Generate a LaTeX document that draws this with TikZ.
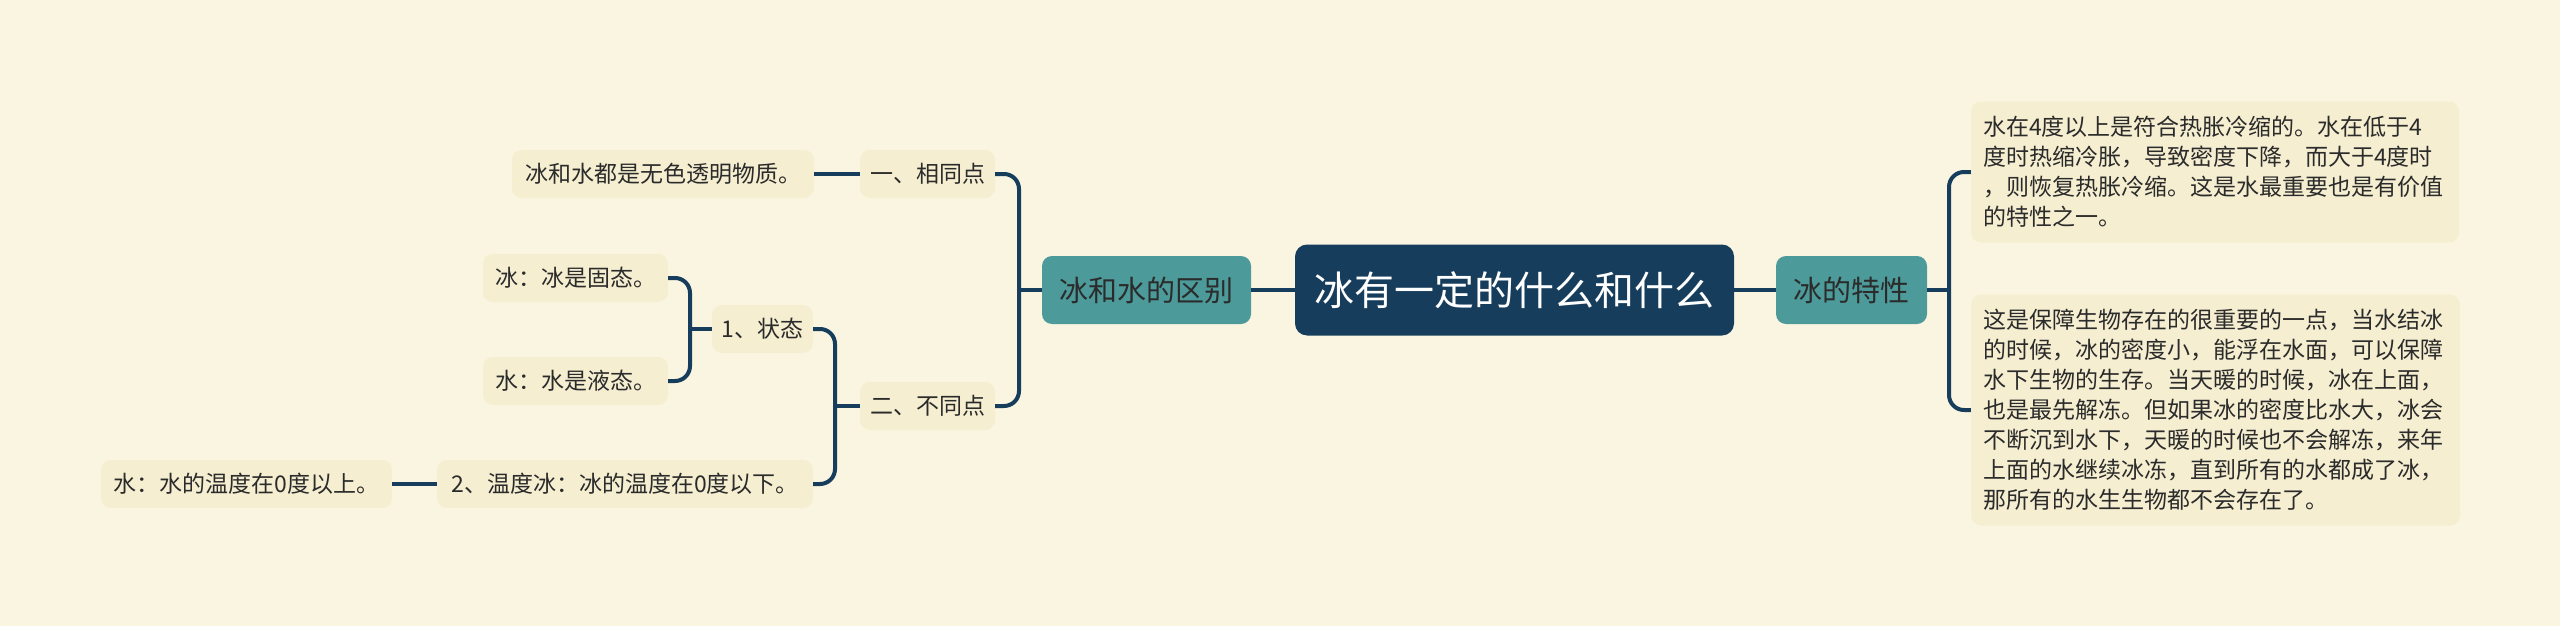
\documentclass[tikz,border=0pt]{standalone}
\usepackage{fontspec}
\setmainfont{Noto Sans CJK SC}
\definecolor{bg}{HTML}{FAF5E1}
\definecolor{leaf}{HTML}{F5EED1}
\definecolor{navy}{HTML}{173D5C}
\definecolor{teal}{HTML}{4C9A9A}
\definecolor{ink}{HTML}{2B2B2B}
\begin{document}
\begin{tikzpicture}[x=1pt,y=-1pt,
  rootbox/.style={fill=navy, rounded corners=12pt, text=white, inner sep=0pt,
    minimum width=439pt, minimum height=91pt, font=\fontsize{40}{48}\selectfont},
  mainbox/.style={fill=teal, rounded corners=10pt, text=ink, inner sep=0pt,
    minimum height=68pt, font=\fontsize{29}{35}\selectfont},
  leafbox/.style={fill=leaf, rounded corners=10pt, text=ink, inner sep=0pt,
    minimum height=48pt, font=\fontsize{23}{28}\selectfont},
  parabox/.style={fill=leaf, rounded corners=10pt, text=ink, inner sep=0pt,
    align=left, text width=464pt, font=\fontsize{23}{30}\selectfont},
  conn/.style={draw=navy, line width=4pt, rounded corners=15pt}
]
\fill[bg] (0,0) rectangle (2560,626);
\useasboundingbox (0,0) rectangle (2560,626);

\node[rootbox] (root) at (1514.5,290) {冰有一定的什么和什么};
\node[mainbox, minimum width=151pt] (tx) at (1851.5,290) {冰的特性};
\node[mainbox, minimum width=209pt] (qb) at (1146.5,290) {冰和水的区别};

\node[parabox, minimum width=488pt, minimum height=141pt] (r1) at (2215,172)
  {水在4度以上是符合热胀冷缩的。水在低于4\\度时热缩冷胀，导致密度下降，而大于4度时\\，则恢复热胀冷缩。这是水最重要也是有价值\\的特性之一。};
\node[parabox, minimum width=489pt, minimum height=231pt] (r2) at (2215.5,410)
  {这是保障生物存在的很重要的一点，当水结冰\\的时候，冰的密度小，能浮在水面，可以保障\\水下生物的生存。当天暖的时候，冰在上面，\\也是最先解冻。但如果冰的密度比水大，冰会\\不断沉到水下，天暖的时候也不会解冻，来年\\上面的水继续冰冻，直到所有的水都成了冰，\\那所有的水生生物都不会存在了。};

\node[leafbox, minimum width=135pt] (s1) at (927.5,174) {一、相同点};
\node[leafbox, minimum width=135pt] (s2) at (927.5,406) {二、不同点};
\node[leafbox, minimum width=302pt] (a) at (663,174) {冰和水都是无色透明物质。};
\node[leafbox, minimum width=101pt] (b) at (762.5,329) {1、状态};
\node[leafbox, minimum width=376pt] (c) at (625,484) {2、温度冰：冰的温度在0度以下。};
\node[leafbox, minimum width=185pt] (d) at (575.5,278) {冰：冰是固态。};
\node[leafbox, minimum width=185pt] (e) at (575.5,381) {水：水是液态。};
\node[leafbox, minimum width=291pt] (f) at (246.5,484) {水：水的温度在0度以上。};

\coordinate (j1) at (1019,290);
\coordinate (j2) at (1949,290);
\coordinate (j3) at (835,406);
\coordinate (j4) at (690,329);

\draw[conn] (root.west) -- (qb.east);
\draw[conn] (root.east) -- (tx.west);
\draw[conn] (qb.west) -- (j1);
\draw[conn] (s1.east) -| (j1) |- (s2.east);
\draw[conn] (tx.east) -- (j2);
\draw[conn] (r1.west) -| (j2) |- (r2.west);
\draw[conn] (a.east) -- (s1.west);
\draw[conn] (s2.west) -- (j3);
\draw[conn] (b.east) -| (j3) |- (c.east);
\draw[conn] (b.west) -- (j4);
\draw[conn] (d.east) -| (j4) |- (e.east);
\draw[conn] (f.east) -- (c.west);
\end{tikzpicture}
\end{document}
